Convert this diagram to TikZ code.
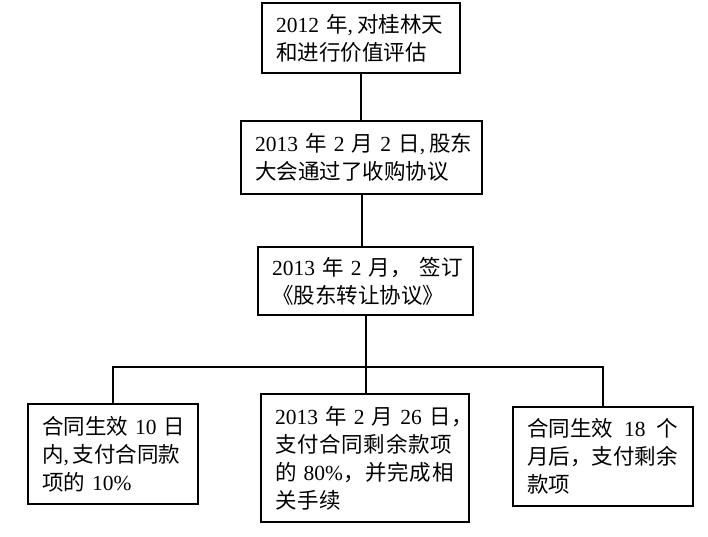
\documentclass[tikz,border=0pt]{standalone}
\usepackage{fontspec}
\setmainfont{Liberation Serif}
\newfontfamily\cjk{Noto Sans CJK SC}
\newfontfamily\cjkwide[LetterSpace=3.5]{Noto Sans CJK SC}
\newcommand\zh[1]{{\cjk #1}}
\newcommand\zhw[1]{{\cjkwide #1}}
\begin{document}
\begin{tikzpicture}[x=1pt,y=-1pt,
  box/.style={draw, line width=2.6pt, inner xsep=14pt, inner ysep=0pt, align=left,
    font=\fontsize{21.5}{28}\selectfont},
  conn/.style={line width=2pt}]
\useasboundingbox (0,0) rectangle (708,537);
\node[box, minimum height=70pt, text width=170pt] (b1) at (361,38)
  {\mbox{2012~\zh{年},\hspace{4pt}\zh{对桂林天}}\\\mbox{\zh{和进行价值评估}}};
\node[box, minimum height=73pt, text width=213pt] (b2) at (361.5,157.5)
  {\mbox{2013~\zh{年}~2~\zh{月}~2~\zh{日},\hspace{4pt}\zh{股东}}\\\mbox{\zh{大会通过了收购协议}}};
\node[box, minimum height=68pt, text width=187pt] (b3) at (365.5,281)
  {\mbox{2013~\zh{年}~2~\zh{月，}\hspace{8pt}\zh{签订}}\\\mbox{\zh{《股东转让协议》}}};
\node[box, minimum height=100pt, text width=142pt] (l) at (113,454)
  {\mbox{\zh{合同生效}~10~\zh{日}}\\\mbox{\zh{内},\hspace{4pt}\zh{支付合同款}}\\\mbox{\zh{项的}~10\%}};
\node[box, minimum height=128pt, text width=180pt] (m) at (365,458)
  {\mbox{2013~\zhw{年}~2~\zhw{月}~26~\zhw{日，}}\\\mbox{\zhw{支付合同剩余款项}}\\\mbox{\zhw{的}~80\%\zhw{，并完成相}}\\\mbox{\zhw{关手续}}};
\node[box, minimum height=99pt, text width=152pt] (r) at (603,456.5)
  {\mbox{\zh{合同生效}\hspace{11pt}18\hspace{11pt}\zh{个}}\\\mbox{\zh{月后，支付剩余}}\\\mbox{\zh{款项}}};
\coordinate (j) at (366,367);
\draw[conn] (b1.south) -- (b1.south |- b2.north);
\draw[conn] (b2.south) -- (b2.south |- b3.north);
\draw[conn] (b3.south) -- (b3.south |- m.north);
\draw[conn] (l.north) |- (j) -| (r.north);
\end{tikzpicture}
\end{document}
